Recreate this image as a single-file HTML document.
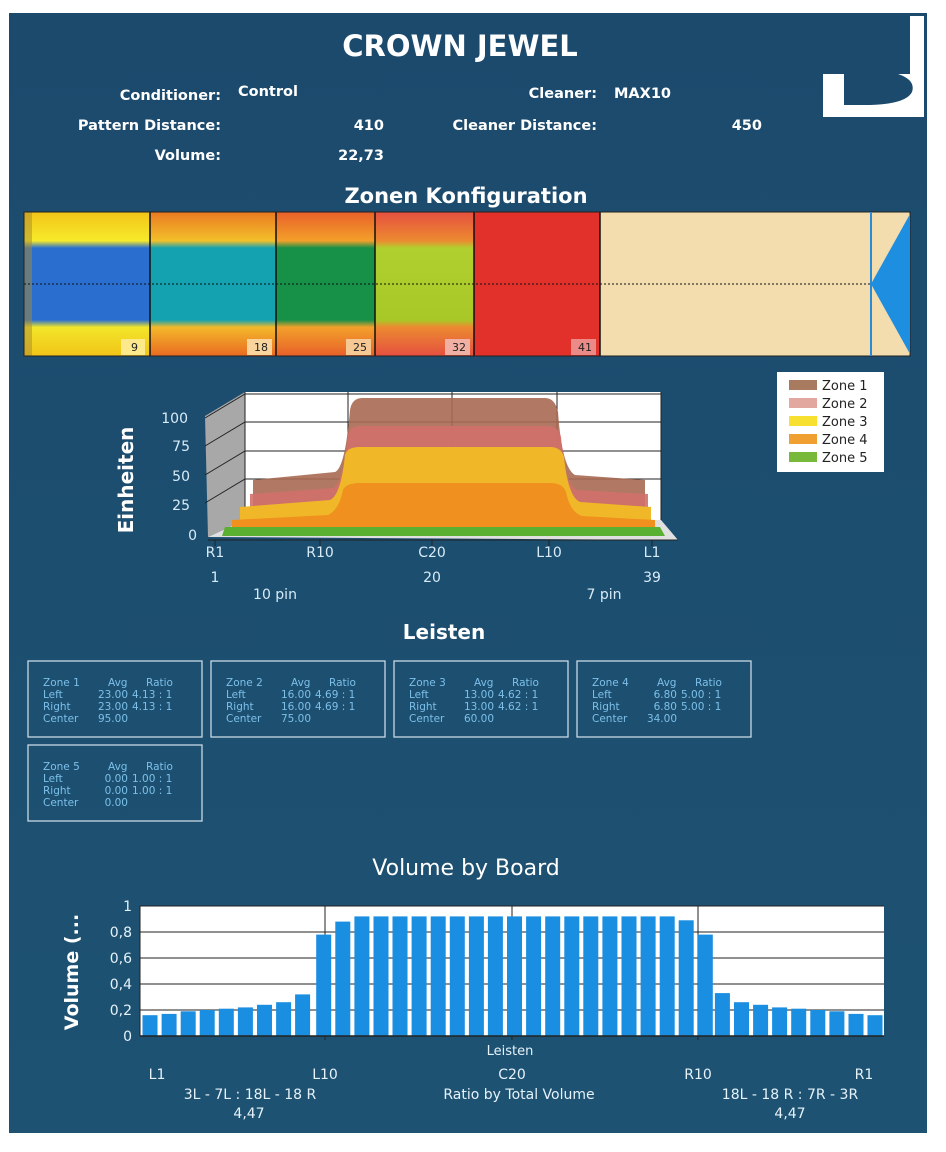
<!DOCTYPE html>
<html><head><meta charset="utf-8"><style>
html,body{margin:0;padding:0;background:#fff;}
svg{display:block;}
text{font-family:"DejaVu Sans","Liberation Sans",sans-serif;}
.w{fill:#fff;}
.b{font-weight:bold;}
.zb{fill:none;stroke:#c8d8e4;stroke-width:1.3;}
.zt{fill:#7cc0ea;font-family:"Liberation Sans",sans-serif;font-size:10.5px;}
</style></head><body>
<svg width="946" height="1152" viewBox="0 0 946 1152" xmlns="http://www.w3.org/2000/svg">
<defs>
<linearGradient id="bg" x1="0" y1="0" x2="0" y2="1"><stop offset="0" stop-color="#1c4a6d"/><stop offset="1" stop-color="#1d5272"/></linearGradient>
<linearGradient id="z1" x1="0" y1="0" x2="0" y2="1">
<stop offset="0" stop-color="#f2c418"/><stop offset="0.2" stop-color="#f7ea2a"/><stop offset="0.25" stop-color="#2a6fd0"/><stop offset="0.75" stop-color="#2a6fd0"/><stop offset="0.8" stop-color="#f2e62a"/><stop offset="1" stop-color="#f2c418"/></linearGradient>
<linearGradient id="z2" x1="0" y1="0" x2="0" y2="1">
<stop offset="0" stop-color="#ea7a22"/><stop offset="0.2" stop-color="#f3c02a"/><stop offset="0.25" stop-color="#14a2b0"/><stop offset="0.75" stop-color="#14a2b0"/><stop offset="0.8" stop-color="#f3b82a"/><stop offset="1" stop-color="#ea6a22"/></linearGradient>
<linearGradient id="z3" x1="0" y1="0" x2="0" y2="1">
<stop offset="0" stop-color="#e8602a"/><stop offset="0.2" stop-color="#f3a02a"/><stop offset="0.25" stop-color="#179048"/><stop offset="0.75" stop-color="#179048"/><stop offset="0.8" stop-color="#f3a02a"/><stop offset="1" stop-color="#e8602a"/></linearGradient>
<linearGradient id="z4" x1="0" y1="0" x2="0" y2="1">
<stop offset="0" stop-color="#e55040"/><stop offset="0.2" stop-color="#ec8a30"/><stop offset="0.25" stop-color="#b0d030"/><stop offset="0.75" stop-color="#a8c828"/><stop offset="0.8" stop-color="#ec8a30"/><stop offset="1" stop-color="#e55040"/></linearGradient>
</defs>
<rect x="9" y="13" width="918" height="1120" fill="url(#bg)"/>
<!-- logo -->
<rect x="910" y="16" width="14" height="101" fill="#fff"/>
<rect x="823" y="74" width="101" height="43" fill="#fff"/>
<path d="M844 74 L898 74 Q916 80 912 92 Q906 104 870 105 L844 105 Z" fill="#1c4a6d"/>
<!-- header -->
<text x="460" y="56" text-anchor="middle" class="w b" font-size="29">CROWN JEWEL</text>
<g class="w b" font-size="14.5">
<text x="221" y="100" text-anchor="end">Conditioner:</text>
<text x="238" y="96">Control</text>
<text x="221" y="130" text-anchor="end">Pattern Distance:</text>
<text x="384" y="130" text-anchor="end">410</text>
<text x="221" y="160" text-anchor="end">Volume:</text>
<text x="384" y="160" text-anchor="end">22,73</text>
<text x="597" y="98" text-anchor="end">Cleaner:</text>
<text x="614" y="98">MAX10</text>
<text x="597" y="130" text-anchor="end">Cleaner Distance:</text>
<text x="762" y="130" text-anchor="end">450</text>
</g>
<text x="466" y="203" text-anchor="middle" class="w b" font-size="21">Zonen Konfiguration</text>
<!-- lane -->
<rect x="24" y="212" width="886" height="144" fill="#f3dcae"/>
<rect x="24" y="212" width="126" height="144" fill="url(#z1)"/>
<rect x="24" y="212" width="8" height="144" fill="#a88a30" opacity="0.5"/>
<rect x="150" y="212" width="126" height="144" fill="url(#z2)"/>
<rect x="276" y="212" width="99" height="144" fill="url(#z3)"/>
<rect x="375" y="212" width="99" height="144" fill="url(#z4)"/>
<rect x="474" y="212" width="126" height="144" fill="#e2302a"/>
<line x1="24" y1="284" x2="870" y2="284" stroke="#111" stroke-width="1" stroke-dasharray="2,2"/>
<g stroke="#111" stroke-width="1.5"><line x1="150" y1="212" x2="150" y2="356"/><line x1="276" y1="212" x2="276" y2="356"/><line x1="375" y1="212" x2="375" y2="356"/><line x1="474" y1="212" x2="474" y2="356"/><line x1="600" y1="212" x2="600" y2="356"/></g>
<rect x="24" y="212" width="886" height="144" fill="none" stroke="#222" stroke-width="1"/>
<line x1="871" y1="212" x2="871" y2="356" stroke="#2a8ad8" stroke-width="2"/>
<polygon points="910,214 910,354 871,284" fill="#1e8ee0"/>
<g font-size="11" font-family="Liberation Sans" fill="#222">
<rect x="121" y="339" width="24" height="16" fill="#fbe98c"/><text x="138" y="351" text-anchor="end">9</text>
<rect x="247" y="339" width="25" height="16" fill="#f9d49c"/><text x="268" y="351" text-anchor="end">18</text>
<rect x="346" y="339" width="25" height="16" fill="#f6c894"/><text x="367" y="351" text-anchor="end">25</text>
<rect x="445" y="339" width="25" height="16" fill="#f1b0a4"/><text x="466" y="351" text-anchor="end">32</text>
<rect x="571" y="339" width="25" height="16" fill="#ec8a88"/><text x="592" y="351" text-anchor="end">41</text>
</g>
<!-- 3D chart -->
<polygon points="245,392 661,392 661,520 245,520" fill="#fff"/>
<polygon points="205,416 245,392 245,520 208,537" fill="#a8a8a8"/>
<polygon points="208,537 245,520 661,520 678,540" fill="#e0e0e0"/>
<g stroke="#222" stroke-width="1" fill="none">
<polyline points="205,418 245,394 661,394"/>
<polyline points="205,446 245,422 661,422"/>
<polyline points="205,475 245,451 661,451"/>
<polyline points="205,503 245,479 661,479"/>
<line x1="348" y1="392" x2="348" y2="520"/><line x1="452" y1="392" x2="452" y2="520"/><line x1="557" y1="392" x2="557" y2="520"/>
<line x1="245" y1="392" x2="245" y2="520"/><line x1="661" y1="392" x2="661" y2="520"/>
</g>
<path d="M253 480 L335 472 Q345 468 350 410 Q352 398 362 398 L545 398 Q555 398 558 412 Q562 468 575 475 L645 480 L645 530 L253 530 Z" fill="#a86a52" opacity="0.9"/>
<path d="M250 494 L333 488 Q343 484 348 435 Q350 426 360 426 L548 426 Q558 426 561 437 Q565 485 577 490 L648 494 L648 530 L250 530 Z" fill="#d2706a" opacity="0.9"/>
<path d="M240 507 L330 500 Q341 495 345 455 Q347 447 360 447 L550 447 Q561 447 564 457 Q568 497 580 502 L651 507 L651 532 L240 532 Z" fill="#f0b828"/>
<path d="M232 520 L328 515 Q339 510 343 490 Q346 483 360 483 L550 483 Q563 483 566 492 Q570 512 582 516 L655 520 L655 535 L232 535 Z" fill="#f0901e"/>
<path d="M225 527 L660 527 L665 536 L222 536 Z" fill="#5ab030"/>
<g stroke="#222" stroke-width="1"><line x1="208" y1="540" x2="678" y2="540"/><line x1="215" y1="540" x2="215" y2="546"/><line x1="320" y1="540" x2="320" y2="546"/><line x1="432" y1="540" x2="432" y2="546"/><line x1="549" y1="540" x2="549" y2="546"/><line x1="652" y1="540" x2="652" y2="546"/></g>
<g fill="#d8ecf8" font-family="Liberation Sans" font-size="14">
<text x="188" y="423" text-anchor="end">100</text><text x="190" y="451" text-anchor="end">75</text><text x="190" y="481" text-anchor="end">50</text><text x="190" y="510" text-anchor="end">25</text><text x="197" y="540" text-anchor="end">0</text>
<text x="215" y="557" text-anchor="middle">R1</text><text x="320" y="557" text-anchor="middle">R10</text><text x="432" y="557" text-anchor="middle">C20</text><text x="549" y="557" text-anchor="middle">L10</text><text x="652" y="557" text-anchor="middle">L1</text>
<text x="215" y="582" text-anchor="middle">1</text><text x="432" y="582" text-anchor="middle">20</text><text x="652" y="582" text-anchor="middle">39</text>
<text x="275" y="599" text-anchor="middle">10 pin</text><text x="604" y="599" text-anchor="middle">7 pin</text>
</g>
<text transform="translate(133,480) rotate(-90)" text-anchor="middle" class="w b" font-size="20">Einheiten</text>
<!-- legend -->
<rect x="777" y="372" width="107" height="100" fill="#fff"/>
<g font-family="Liberation Sans" font-size="13" fill="#222">
<rect x="789" y="380" width="28" height="10" fill="#a87a60"/><text x="822" y="390">Zone 1</text>
<rect x="789" y="398" width="28" height="10" fill="#e2a8a0"/><text x="822" y="408">Zone 2</text>
<rect x="789" y="416" width="28" height="10" fill="#f8e030"/><text x="822" y="426">Zone 3</text>
<rect x="789" y="434" width="28" height="10" fill="#f0a030"/><text x="822" y="444">Zone 4</text>
<rect x="789" y="452" width="28" height="10" fill="#78b83a"/><text x="822" y="462">Zone 5</text>
</g>
<text x="444" y="639" text-anchor="middle" class="w b" font-size="20">Leisten</text>
<!-- zone boxes -->
<g>
<rect class="zb" x="28" y="661" width="174" height="76"/>
<rect class="zb" x="211" y="661" width="174" height="76"/>
<rect class="zb" x="394" y="661" width="174" height="76"/>
<rect class="zb" x="577" y="661" width="174" height="76"/>
<rect class="zb" x="28" y="745" width="174" height="76"/>
</g>
<g class="zt">
<text x="43" y="686">Zone 1</text><text x="108" y="686">Avg</text><text x="146" y="686">Ratio</text>
<text x="43" y="698">Left</text><text x="128" y="698" text-anchor="end">23.00</text><text x="132" y="698">4.13 : 1</text>
<text x="43" y="710">Right</text><text x="128" y="710" text-anchor="end">23.00</text><text x="132" y="710">4.13 : 1</text>
<text x="43" y="722">Center</text><text x="128" y="722" text-anchor="end">95.00</text>

<text x="226" y="686">Zone 2</text><text x="291" y="686">Avg</text><text x="329" y="686">Ratio</text>
<text x="226" y="698">Left</text><text x="311" y="698" text-anchor="end">16.00</text><text x="315" y="698">4.69 : 1</text>
<text x="226" y="710">Right</text><text x="311" y="710" text-anchor="end">16.00</text><text x="315" y="710">4.69 : 1</text>
<text x="226" y="722">Center</text><text x="311" y="722" text-anchor="end">75.00</text>

<text x="409" y="686">Zone 3</text><text x="474" y="686">Avg</text><text x="512" y="686">Ratio</text>
<text x="409" y="698">Left</text><text x="494" y="698" text-anchor="end">13.00</text><text x="498" y="698">4.62 : 1</text>
<text x="409" y="710">Right</text><text x="494" y="710" text-anchor="end">13.00</text><text x="498" y="710">4.62 : 1</text>
<text x="409" y="722">Center</text><text x="494" y="722" text-anchor="end">60.00</text>

<text x="592" y="686">Zone 4</text><text x="657" y="686">Avg</text><text x="695" y="686">Ratio</text>
<text x="592" y="698">Left</text><text x="677" y="698" text-anchor="end">6.80</text><text x="681" y="698">5.00 : 1</text>
<text x="592" y="710">Right</text><text x="677" y="710" text-anchor="end">6.80</text><text x="681" y="710">5.00 : 1</text>
<text x="592" y="722">Center</text><text x="677" y="722" text-anchor="end">34.00</text>

<text x="43" y="770">Zone 5</text><text x="108" y="770">Avg</text><text x="146" y="770">Ratio</text>
<text x="43" y="782">Left</text><text x="128" y="782" text-anchor="end">0.00</text><text x="132" y="782">1.00 : 1</text>
<text x="43" y="794">Right</text><text x="128" y="794" text-anchor="end">0.00</text><text x="132" y="794">1.00 : 1</text>
<text x="43" y="806">Center</text><text x="128" y="806" text-anchor="end">0.00</text>
</g>
<!-- bar chart -->
<text x="466" y="875" text-anchor="middle" fill="#fff" font-size="22" font-family="DejaVu Sans">Volume by Board</text>
<rect x="140" y="906" width="744" height="130" fill="#fff"/>
<g stroke="#222" stroke-width="1">
<line x1="140" y1="906" x2="884" y2="906"/><line x1="140" y1="932" x2="884" y2="932"/><line x1="140" y1="958" x2="884" y2="958"/><line x1="140" y1="984" x2="884" y2="984"/><line x1="140" y1="1010" x2="884" y2="1010"/>
<line x1="325" y1="906" x2="325" y2="1040"/><line x1="512" y1="906" x2="512" y2="1040"/><line x1="698" y1="906" x2="698" y2="1040"/>
</g>
<g fill="#1a8ee0">
<rect x="142.5" y="1015.2" width="15" height="20.8"/>
<rect x="161.6" y="1013.9" width="15" height="22.1"/>
<rect x="180.7" y="1011.3" width="15" height="24.7"/>
<rect x="199.7" y="1010" width="15" height="26"/>
<rect x="218.8" y="1008.7" width="15" height="27.3"/>
<rect x="237.9" y="1007.4" width="15" height="28.6"/>
<rect x="257.0" y="1004.8" width="15" height="31.2"/>
<rect x="276.1" y="1002.2" width="15" height="33.8"/>
<rect x="295.1" y="994.4" width="15" height="41.6"/>
<rect x="316.2" y="934.6" width="15" height="101.4"/>
<rect x="335.3" y="921.6" width="15" height="114.4"/>
<rect x="354.4" y="916.4" width="15" height="119.6"/>
<rect x="373.5" y="916.4" width="15" height="119.6"/>
<rect x="392.5" y="916.4" width="15" height="119.6"/>
<rect x="411.6" y="916.4" width="15" height="119.6"/>
<rect x="430.7" y="916.4" width="15" height="119.6"/>
<rect x="449.8" y="916.4" width="15" height="119.6"/>
<rect x="468.9" y="916.4" width="15" height="119.6"/>
<rect x="487.9" y="916.4" width="15" height="119.6"/>
<rect x="507.0" y="916.4" width="15" height="119.6"/>
<rect x="526.1" y="916.4" width="15" height="119.6"/>
<rect x="545.2" y="916.4" width="15" height="119.6"/>
<rect x="564.3" y="916.4" width="15" height="119.6"/>
<rect x="583.3" y="916.4" width="15" height="119.6"/>
<rect x="602.4" y="916.4" width="15" height="119.6"/>
<rect x="621.5" y="916.4" width="15" height="119.6"/>
<rect x="640.6" y="916.4" width="15" height="119.6"/>
<rect x="659.7" y="916.4" width="15" height="119.6"/>
<rect x="678.7" y="920.3" width="15" height="115.7"/>
<rect x="697.8" y="934.6" width="15" height="101.4"/>
<rect x="714.9" y="993.1" width="15" height="42.9"/>
<rect x="734.0" y="1002.2" width="15" height="33.8"/>
<rect x="753.1" y="1004.8" width="15" height="31.2"/>
<rect x="772.1" y="1007.4" width="15" height="28.6"/>
<rect x="791.2" y="1008.7" width="15" height="27.3"/>
<rect x="810.3" y="1010" width="15" height="26"/>
<rect x="829.4" y="1011.3" width="15" height="24.7"/>
<rect x="848.5" y="1013.9" width="15" height="22.1"/>
<rect x="867.5" y="1015.2" width="15" height="20.8"/>
</g>
<line x1="140" y1="1036" x2="884" y2="1036" stroke="#222" stroke-width="1.5"/>
<line x1="140" y1="906" x2="140" y2="1036" stroke="#222" stroke-width="1"/>
<g fill="#e6f2fa" font-family="Liberation Sans" font-size="14">
<text x="132" y="911" text-anchor="end">1</text><text x="132" y="937" text-anchor="end">0,8</text><text x="132" y="963" text-anchor="end">0,6</text><text x="132" y="989" text-anchor="end">0,4</text><text x="132" y="1015" text-anchor="end">0,2</text><text x="132" y="1041" text-anchor="end">0</text>
<text x="510" y="1055" text-anchor="middle" font-size="13">Leisten</text>
<text x="157" y="1079" text-anchor="middle">L1</text><text x="325" y="1079" text-anchor="middle">L10</text><text x="512" y="1079" text-anchor="middle">C20</text><text x="698" y="1079" text-anchor="middle">R10</text><text x="864" y="1079" text-anchor="middle">R1</text>
<text x="250" y="1099" text-anchor="middle">3L - 7L : 18L - 18 R</text>
<text x="519" y="1099" text-anchor="middle">Ratio by Total Volume</text>
<text x="790" y="1099" text-anchor="middle">18L - 18 R : 7R - 3R</text>
<text x="249" y="1118" text-anchor="middle">4,47</text><text x="790" y="1118" text-anchor="middle">4,47</text>
</g>
<text transform="translate(78,972) rotate(-90)" text-anchor="middle" class="w b" font-size="19">Volume (...</text>
</svg>
</body></html>
